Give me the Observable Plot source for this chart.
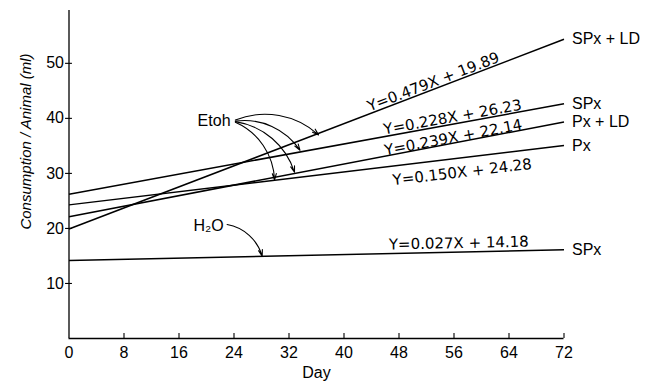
<!DOCTYPE html>
<html>
<head>
<meta charset="utf-8">
<script src="https://cdn.jsdelivr.net/npm/d3@7"></script>
<script src="https://cdn.jsdelivr.net/npm/@observablehq/plot@0.6"></script>
<style>
  html, body { margin: 0; padding: 0; background: #fff; }
</style>
</head>
<body>
<div id="chart"></div>
<script>
// ---- data ----
const xTicks = [0, 8, 16, 24, 32, 40, 48, 56, 64, 72];
const yTicks = [10, 20, 30, 40, 50];
const days = [0, 72];

const lineLabels = ["SPx + LD", "SPx", "Px + LD", "Px", "SPx"];
const startValues = [19.89, 26.23, 22.14, 24.28, 14.18];
const endValues = [54.38, 42.65, 39.35, 35.08, 16.12];

const equations = ["Y=0.479X + 19.89", "Y=0.228X + 26.23", "Y=0.239X + 22.14", "Y=0.150X + 24.28", "Y=0.027X + 14.18"];
const equationDay = [53.0, 55.8, 55.9, 57.2, 56.7];
const equationValue = [46.6, 40.2, 36.5, 30.2, 17.3];
const equationAngle = [-21, -10.3, -10.8, -6.8, -1.2];

const noteTexts = ["Etoh", "H\u2082O"];
const noteDay = [21.1, 20.3];
const noteValue = [39.5, 20.5];

const arrowFromDay = [24.2, 24.2, 24.2, 24.2, 23.0];
const arrowFromValue = [39.7, 39.5, 39.4, 39.3, 20.7];
const arrowToDay = [36.3, 33.6, 32.8, 29.9, 28.1];
const arrowToValue = [37.0, 34.2, 30.2, 28.8, 14.95];

const axisTitleX = "Day";
const axisTitleY = "Consumption / Animal (ml)";
const axisTitleYDay = -6.3;
const axisTitleYValue = 35.8;

// ---- tables built from the arrays ----
const lines = lineLabels.map((label, i) => ({label, x1: days[0], y1: startValues[i], x2: days[1], y2: endValues[i]}));
const eqs = equations.map((text, i) => ({text, x: equationDay[i], y: equationValue[i], angle: equationAngle[i]}));
const notes = noteTexts.map((text, i) => ({text, x: noteDay[i], y: noteValue[i]}));
const arrows = arrowFromDay.map((x1, i) => ({x1, y1: arrowFromValue[i], x2: arrowToDay[i], y2: arrowToValue[i]}));
const yTop = 59.6;

const chart = Plot.plot({
  width: 652,
  height: 385,
  marginLeft: 68.5,
  marginRight: 88.5,
  marginTop: 10,
  marginBottom: 47,
  style: {fontFamily: "Liberation Sans, Arial, sans-serif", fontSize: "16px", color: "#000", background: "#fff"},
  x: {domain: [0, 72], ticks: xTicks, tickSize: 0, tickPadding: 8, label: null},
  y: {domain: [0, yTop], ticks: yTicks, tickSize: 0, tickPadding: 5, label: null},
  marks: [
    // axis lines
    Plot.ruleY([0], {x1: days[0], x2: days[1], stroke: "#000", strokeWidth: 1.3}),
    Plot.ruleX([0], {y1: 0, y2: yTop, stroke: "#000", strokeWidth: 1.3}),
    // tick marks
    Plot.ruleX(xTicks.slice(1), {y1: 0, y2: 0.9, stroke: "#000", strokeWidth: 1.1}),
    Plot.ruleY(yTicks, {x1: -0.5, x2: 0.5, stroke: "#000", strokeWidth: 1.1}),
    // regression lines
    Plot.link(lines, {x1: "x1", y1: "y1", x2: "x2", y2: "y2", stroke: "#000", strokeWidth: 1.5}),
    Plot.text(lines, {x: "x2", y: "y2", text: "label", textAnchor: "start", dx: 8, fontSize: 16}),
    // equations
    Plot.text(eqs, {x: "x", y: "y", text: "text", rotate: "angle", fontFamily: "DejaVu Sans", fontSize: 15}),
    // annotations
    Plot.text(notes, {x: "x", y: "y", text: "text", fontSize: 16}),
    Plot.arrow(arrows, {x1: "x1", y1: "y1", x2: "x2", y2: "y2", bend: 32, stroke: "#000", strokeWidth: 1.1, headLength: 9, headAngle: 35}),
    // axis titles
    Plot.text([axisTitleX], {frameAnchor: "bottom", dy: 39, text: d => d, fontSize: 16}),
    Plot.text([axisTitleY], {x: axisTitleYDay, y: axisTitleYValue, text: d => d, rotate: -90, fontStyle: "italic", fontSize: 15})
  ]
});
document.getElementById("chart").appendChild(chart);
</script>
</body>
</html>
